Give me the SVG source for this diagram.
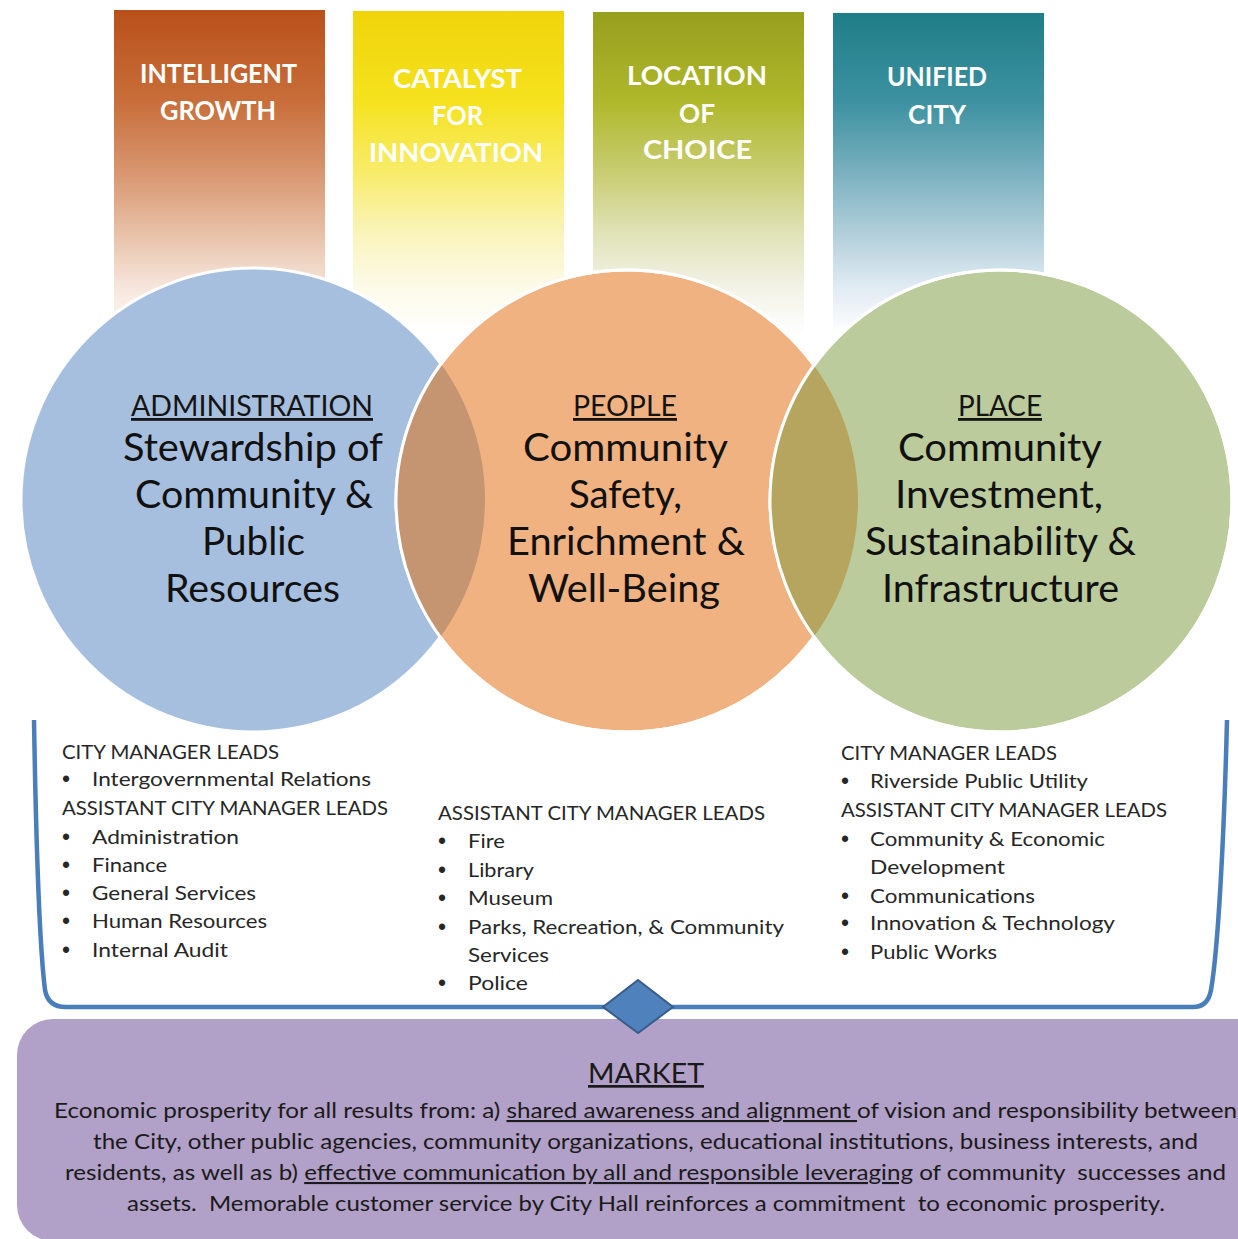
<svg xmlns="http://www.w3.org/2000/svg" width="1238" height="1239" viewBox="0 0 1238 1239">
<style>
.ban{font-family:Lato,"Liberation Sans",sans-serif;font-weight:700;font-size:26px;fill:#ffffff}
.hd{font-family:Lato,"Liberation Sans",sans-serif;font-size:28px;fill:#141414;text-decoration:underline}
.big{font-family:Lato,"Liberation Sans",sans-serif;font-size:38px;fill:#111111}
.li{font-family:Lato,"Liberation Sans",sans-serif;font-size:19px;fill:#262626}
.bu{font-family:"Liberation Sans",sans-serif;font-size:23px;fill:#262626}
.mt{font-family:Lato,"Liberation Sans",sans-serif;font-size:27px;fill:#1a1a1a;text-decoration:underline}
.mb{font-family:Lato,"Liberation Sans",sans-serif;font-size:21px;fill:#1a1a1a}
.u{text-decoration:underline}
</style>
<defs>
<linearGradient id="gOr" x1="0" y1="10" x2="0" y2="335" gradientUnits="userSpaceOnUse">
<stop offset="0" stop-color="#B9501A"/><stop offset="0.28" stop-color="#C86E3A"/><stop offset="0.5" stop-color="#D89670"/><stop offset="0.69" stop-color="#E8C1A8"/><stop offset="0.84" stop-color="#F5E3D8"/><stop offset="1" stop-color="#FFFFFF"/>
</linearGradient>
<linearGradient id="gYe" x1="0" y1="10" x2="0" y2="335" gradientUnits="userSpaceOnUse">
<stop offset="0" stop-color="#F0D40A"/><stop offset="0.28" stop-color="#F5E21E"/><stop offset="0.5" stop-color="#F8EC6A"/><stop offset="0.69" stop-color="#FAF4BC"/><stop offset="0.84" stop-color="#FCFAE6"/><stop offset="1" stop-color="#FFFFFF"/>
</linearGradient>
<linearGradient id="gOl" x1="0" y1="10" x2="0" y2="335" gradientUnits="userSpaceOnUse">
<stop offset="0" stop-color="#969E1E"/><stop offset="0.28" stop-color="#AFB82A"/><stop offset="0.5" stop-color="#C8CD72"/><stop offset="0.69" stop-color="#E1E3B8"/><stop offset="0.84" stop-color="#F1F1E4"/><stop offset="1" stop-color="#FFFFFF"/>
</linearGradient>
<linearGradient id="gTe" x1="0" y1="10" x2="0" y2="335" gradientUnits="userSpaceOnUse">
<stop offset="0" stop-color="#1E7D87"/><stop offset="0.28" stop-color="#3C91A0"/><stop offset="0.5" stop-color="#7AB0BF"/><stop offset="0.69" stop-color="#B2CFDB"/><stop offset="0.84" stop-color="#DDE9F1"/><stop offset="1" stop-color="#FFFFFF"/>
</linearGradient>
<clipPath id="cBlue"><circle cx="253" cy="500" r="232"/></clipPath>
<clipPath id="cOrange"><circle cx="627" cy="501" r="231"/></clipPath>
</defs>
<rect width="1238" height="1239" fill="#ffffff"/>

<g id="banner-intelligent-growth">
<rect x="114" y="10" width="211" height="325" fill="url(#gOr)"/>
<text class="ban" x="140" y="83" textLength="157" lengthAdjust="spacingAndGlyphs">INTELLIGENT</text>
<text class="ban" x="160" y="120" textLength="116" lengthAdjust="spacingAndGlyphs">GROWTH</text>
</g>
<g id="banner-catalyst">
<rect x="353" y="11" width="211" height="324" fill="url(#gYe)"/>
<text class="ban" x="393" y="88" textLength="129" lengthAdjust="spacingAndGlyphs">CATALYST</text>
<text class="ban" x="432" y="125" textLength="51" lengthAdjust="spacingAndGlyphs">FOR</text>
<text class="ban" x="369" y="162" textLength="174" lengthAdjust="spacingAndGlyphs">INNOVATION</text>
</g>
<g id="banner-location">
<rect x="593" y="12" width="211" height="323" fill="url(#gOl)"/>
<text class="ban" x="627" y="85" textLength="140" lengthAdjust="spacingAndGlyphs">LOCATION</text>
<text class="ban" x="679" y="123" textLength="36" lengthAdjust="spacingAndGlyphs">OF</text>
<text class="ban" x="643" y="159" textLength="109" lengthAdjust="spacingAndGlyphs">CHOICE</text>
</g>
<g id="banner-unified">
<rect x="833" y="13" width="211" height="322" fill="url(#gTe)"/>
<text class="ban" x="887" y="86" textLength="100" lengthAdjust="spacingAndGlyphs">UNIFIED</text>
<text class="ban" x="908" y="124" textLength="58" lengthAdjust="spacingAndGlyphs">CITY</text>
</g>

<g id="market">
<rect x="17" y="1019" width="1262" height="222" rx="36" fill="#B1A0C7"/>
<text class="mt" x="588" y="1083" textLength="116" lengthAdjust="spacingAndGlyphs">MARKET</text>
<text class="mb" x="54" y="1118" textLength="1183" lengthAdjust="spacingAndGlyphs" xml:space="preserve">Economic prosperity for all results from: a) <tspan class="u">shared awareness and alignment </tspan>of vision and responsibility between</text>
<text class="mb" x="93" y="1149" textLength="1105" lengthAdjust="spacingAndGlyphs">the City, other public agencies, community organizations, educational institutions, business interests, and</text>
<text class="mb" x="65" y="1180" textLength="1161" lengthAdjust="spacingAndGlyphs" xml:space="preserve">residents, as well as b) <tspan class="u">effective communication by all and responsible leveraging</tspan> of community  successes and</text>
<text class="mb" x="127" y="1211" textLength="1038" lengthAdjust="spacingAndGlyphs" xml:space="preserve">assets.  Memorable customer service by City Hall reinforces a commitment  to economic prosperity.</text>
</g>

<g id="connectors">
<path d="M34,720 C36,840 40,950 45,990 Q48,1007 66,1007 L1193,1007 Q1208,1007 1211,990 C1218,950 1224,840 1227,720" fill="none" stroke="#4A7EBB" stroke-width="4.5"/>
<polygon points="638,980 673,1007 638,1033 603,1007" fill="#4F81BD" stroke="#385D8A" stroke-width="2"/>
</g>

<g id="circle-administration">
<circle cx="253" cy="500" r="232" fill="#A7BFDE" stroke="#ffffff" stroke-width="3"/>
</g>
<g id="circle-people">
<circle cx="627" cy="501" r="231" fill="#F0B280" stroke="#ffffff" stroke-width="3"/>
<circle cx="627" cy="501" r="231" fill="#C49570" clip-path="url(#cBlue)"/>
<circle cx="627" cy="501" r="231" fill="none" stroke="#ffffff" stroke-width="3"/>
</g>
<g id="circle-place">
<circle cx="1001" cy="501" r="231" fill="#BBCB9C" stroke="#ffffff" stroke-width="3"/>
<circle cx="1001" cy="501" r="231" fill="#B5A55E" clip-path="url(#cOrange)"/>
<circle cx="1001" cy="501" r="231" fill="none" stroke="#ffffff" stroke-width="3"/>
</g>

<g id="text-administration">
<text class="hd" x="131" y="416" textLength="242" lengthAdjust="spacingAndGlyphs">ADMINISTRATION</text>
<text class="big" x="123" y="461" textLength="260" lengthAdjust="spacingAndGlyphs">Stewardship of</text>
<text class="big" x="135" y="508" textLength="238" lengthAdjust="spacingAndGlyphs">Community &amp;</text>
<text class="big" x="202" y="555" textLength="103" lengthAdjust="spacingAndGlyphs">Public</text>
<text class="big" x="165" y="602" textLength="175" lengthAdjust="spacingAndGlyphs">Resources</text>
</g>
<g id="text-people">
<text class="hd" x="573" y="416" textLength="104" lengthAdjust="spacingAndGlyphs">PEOPLE</text>
<text class="big" x="523" y="461" textLength="205" lengthAdjust="spacingAndGlyphs">Community</text>
<text class="big" x="569" y="508" textLength="113" lengthAdjust="spacingAndGlyphs">Safety,</text>
<text class="big" x="507" y="555" textLength="238" lengthAdjust="spacingAndGlyphs">Enrichment &amp;</text>
<text class="big" x="528" y="602" textLength="192" lengthAdjust="spacingAndGlyphs">Well-Being</text>
</g>
<g id="text-place">
<text class="hd" x="958" y="416" textLength="84" lengthAdjust="spacingAndGlyphs">PLACE</text>
<text class="big" x="898" y="461" textLength="204" lengthAdjust="spacingAndGlyphs">Community</text>
<text class="big" x="895" y="508" textLength="208" lengthAdjust="spacingAndGlyphs">Investment,</text>
<text class="big" x="865" y="555" textLength="271" lengthAdjust="spacingAndGlyphs">Sustainability &amp;</text>
<text class="big" x="882" y="602" textLength="237" lengthAdjust="spacingAndGlyphs">Infrastructure</text>
</g>

<g id="list-administration">
<text class="li" x="62" y="759" textLength="217" lengthAdjust="spacingAndGlyphs">CITY MANAGER LEADS</text>
<text class="bu" x="66" y="787" text-anchor="middle">•</text>
<text class="li" x="92" y="786" textLength="279" lengthAdjust="spacingAndGlyphs">Intergovernmental Relations</text>
<text class="li" x="62" y="815" textLength="326" lengthAdjust="spacingAndGlyphs">ASSISTANT CITY MANAGER LEADS</text>
<text class="bu" x="66" y="845" text-anchor="middle">•</text>
<text class="li" x="92" y="844" textLength="147" lengthAdjust="spacingAndGlyphs">Administration</text>
<text class="bu" x="66" y="873" text-anchor="middle">•</text>
<text class="li" x="92" y="872" textLength="75" lengthAdjust="spacingAndGlyphs">Finance</text>
<text class="bu" x="66" y="901" text-anchor="middle">•</text>
<text class="li" x="92" y="900" textLength="164" lengthAdjust="spacingAndGlyphs">General Services</text>
<text class="bu" x="66" y="929" text-anchor="middle">•</text>
<text class="li" x="92" y="928" textLength="175" lengthAdjust="spacingAndGlyphs">Human Resources</text>
<text class="bu" x="66" y="958" text-anchor="middle">•</text>
<text class="li" x="92" y="957" textLength="136" lengthAdjust="spacingAndGlyphs">Internal Audit</text>
</g>
<g id="list-people">
<text class="li" x="438" y="820" textLength="327" lengthAdjust="spacingAndGlyphs">ASSISTANT CITY MANAGER LEADS</text>
<text class="bu" x="442" y="849" text-anchor="middle">•</text>
<text class="li" x="468" y="848" textLength="37" lengthAdjust="spacingAndGlyphs">Fire</text>
<text class="bu" x="442" y="878" text-anchor="middle">•</text>
<text class="li" x="468" y="877" textLength="66" lengthAdjust="spacingAndGlyphs">Library</text>
<text class="bu" x="442" y="906" text-anchor="middle">•</text>
<text class="li" x="468" y="905" textLength="85" lengthAdjust="spacingAndGlyphs">Museum</text>
<text class="bu" x="442" y="935" text-anchor="middle">•</text>
<text class="li" x="468" y="934" textLength="316" lengthAdjust="spacingAndGlyphs">Parks, Recreation, &amp; Community</text>
<text class="li" x="468" y="962" textLength="81" lengthAdjust="spacingAndGlyphs">Services</text>
<text class="bu" x="442" y="991" text-anchor="middle">•</text>
<text class="li" x="468" y="990" textLength="60" lengthAdjust="spacingAndGlyphs">Police</text>
</g>
<g id="list-place">
<text class="li" x="841" y="760" textLength="216" lengthAdjust="spacingAndGlyphs">CITY MANAGER LEADS</text>
<text class="bu" x="845" y="789" text-anchor="middle">•</text>
<text class="li" x="870" y="788" textLength="218" lengthAdjust="spacingAndGlyphs">Riverside Public Utility</text>
<text class="li" x="841" y="817" textLength="326" lengthAdjust="spacingAndGlyphs">ASSISTANT CITY MANAGER LEADS</text>
<text class="bu" x="845" y="847" text-anchor="middle">•</text>
<text class="li" x="870" y="846" textLength="235" lengthAdjust="spacingAndGlyphs">Community &amp; Economic</text>
<text class="li" x="870" y="874" textLength="135" lengthAdjust="spacingAndGlyphs">Development</text>
<text class="bu" x="845" y="904" text-anchor="middle">•</text>
<text class="li" x="870" y="903" textLength="165" lengthAdjust="spacingAndGlyphs">Communications</text>
<text class="bu" x="845" y="931" text-anchor="middle">•</text>
<text class="li" x="870" y="930" textLength="245" lengthAdjust="spacingAndGlyphs">Innovation &amp; Technology</text>
<text class="bu" x="845" y="960" text-anchor="middle">•</text>
<text class="li" x="870" y="959" textLength="127" lengthAdjust="spacingAndGlyphs">Public Works</text>
</g>
</svg>
